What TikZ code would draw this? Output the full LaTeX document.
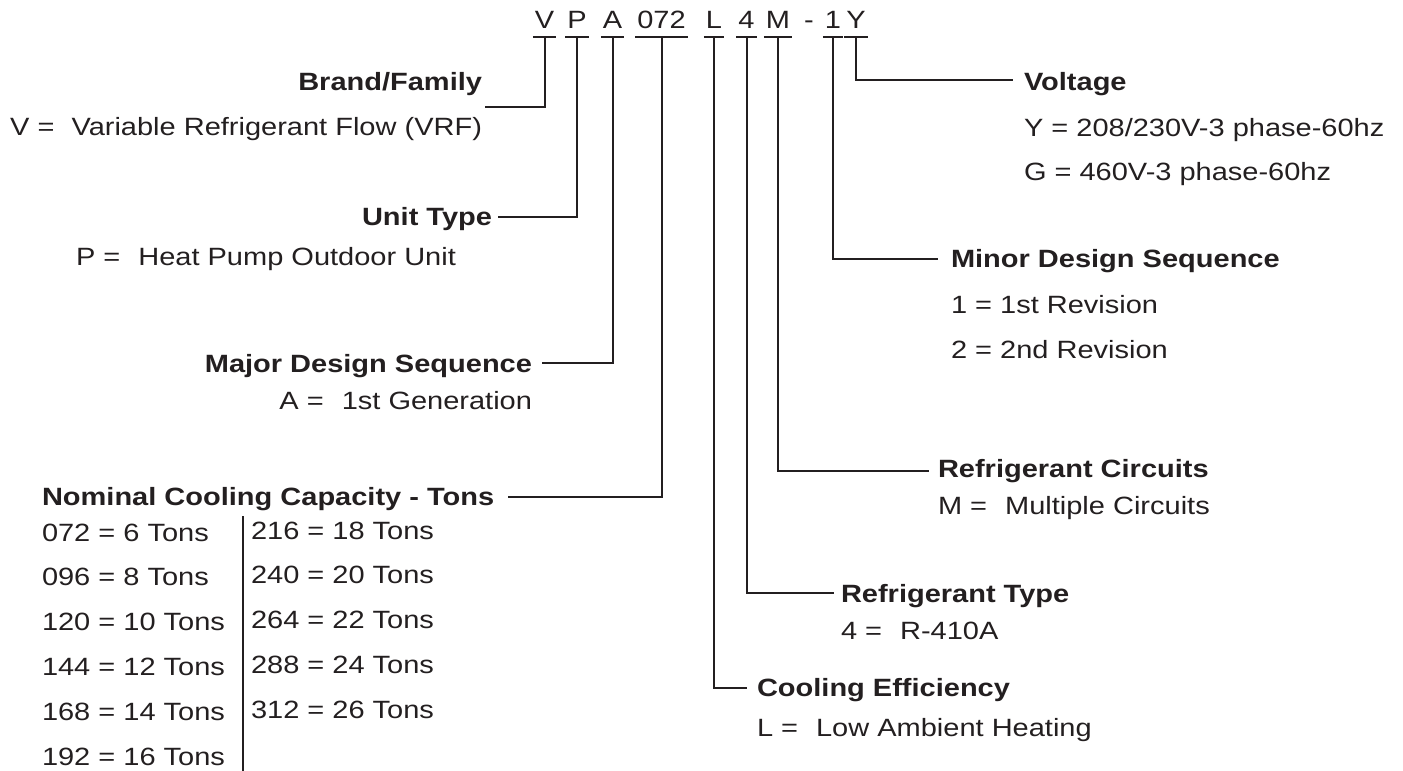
\documentclass[tikz,border=0pt]{standalone}
\usepackage{fontspec}
\setmainfont{Liberation Sans}[FakeStretch=1.16]
\usepackage{tikz}
\usepackage{xcolor}
\usetikzlibrary{positioning}
\definecolor{ink}{RGB}{35,31,32}
\newcommand{\fs}{\fontsize{25pt}{30pt}\selectfont}
\newcommand{\eqgap}{\hspace{18pt}}
\tikzset{
  code/.style={ % one character of the model number
    font=\fs, text height=18pt, text depth=0pt,
    inner xsep=1pt, inner ysep=8pt, anchor=base
  },
  head/.style={ % bold title of a field
    font=\fs\bfseries, text height=18pt, text depth=5pt, inner sep=0pt
  },
  desc/.style={ % plain line under a title
    font=\fs, text height=18pt, text depth=5pt, inner sep=0pt
  }
}

\begin{document}
\begin{tikzpicture}[x=1pt, y=-1pt, line width=2pt, color=ink]
  \useasboundingbox (0,0) rectangle (1403,771);

  % the model number
  \node[code] (cV) at (544.5,28) {V};
  \node[code] (cP) at (577,28) {P};
  \node[code] (cA) at (612.5,28) {A};
  \node[code] (cCap) at (661.5,28) {072};
  \node[code] (cL) at (714,28) {L};
  \node[code] (cRef) at (746.5,28) {4};
  \node[code] (cM) at (778,28) {M};
  \node[code] (cDash) at (809,28) {-};
  \node[code] (cOne) at (833,28) {1};
  \node[code] (cY) at (856,28) {Y};
  \draw (cV.south west) -- (cV.south east)
        (cP.south west) -- (cP.south east)
        (cA.south west) -- (cA.south east)
        (cCap.south west) -- (cCap.south east)
        (cL.south west) -- (cL.south east)
        (cRef.south west) -- (cRef.south east)
        (cM.south west) -- (cM.south east)
        (cOne.south west) -- (cOne.south east)
        (cY.south west) -- (cY.south east);

  % fields on the left
  \node[head, anchor=base east] (brand) at (483,90) {Brand/Family};
  \node[desc, below=20pt of brand.south east, anchor=north east] (brand_v)
    {V =\hspace{9pt} Variable Refrigerant Flow (VRF)};
  \node[head, anchor=base east] (unit) at (493,225) {Unit Type};
  \node[desc, anchor=base west] (unit_p) at (75,265)
    {P =\eqgap Heat Pump Outdoor Unit};
  \node[head, anchor=base east] (major) at (533,372) {Major Design Sequence};
  \node[desc, below=12pt of major.south east, anchor=north east] (major_a)
    {A =\eqgap 1st Generation};
  \node[head, anchor=base west] (cap) at (41,505) {Nominal Cooling Capacity - Tons};
  \node[desc, below=11pt of cap.south west, anchor=north west] (t072) {072 = 6 Tons};
  \node[desc, below=19.8pt of t072.south west, anchor=north west] (t096) {096 = 8 Tons};
  \node[desc, below=19.8pt of t096.south west, anchor=north west] (t120) {120 = 10 Tons};
  \node[desc, below=19.8pt of t120.south west, anchor=north west] (t144) {144 = 12 Tons};
  \node[desc, below=19.8pt of t144.south west, anchor=north west] (t168) {168 = 14 Tons};
  \node[desc, below=19.8pt of t168.south west, anchor=north west] (t192) {192 = 16 Tons};
  \node[desc, anchor=base west] (t216) at (250,539) {216 = 18 Tons};
  \node[desc, below=19.8pt of t216.south west, anchor=north west] (t240) {240 = 20 Tons};
  \node[desc, below=19.8pt of t240.south west, anchor=north west] (t264) {264 = 22 Tons};
  \node[desc, below=19.8pt of t264.south west, anchor=north west] (t288) {288 = 24 Tons};
  \node[desc, below=19.8pt of t288.south west, anchor=north west] (t312) {312 = 26 Tons};
  \draw (243,516) -- (243,771);

  % fields on the right
  \node[head, anchor=base west] (volt) at (1023,90) {Voltage};
  \node[desc, below=21pt of volt.south west, anchor=north west] (volt_y)
    {Y = 208/230V-3 phase-60hz};
  \node[desc, below=19pt of volt_y.south west, anchor=north west] (volt_g)
    {G = 460V-3 phase-60hz};
  \node[head, anchor=base west] (minor) at (950,267) {Minor Design Sequence};
  \node[desc, below=21pt of minor.south west, anchor=north west] (minor_1)
    {1 = 1st Revision};
  \node[desc, below=20pt of minor_1.south west, anchor=north west] (minor_2)
    {2 = 2nd Revision};
  \node[head, anchor=base west] (circ) at (937,477) {Refrigerant Circuits};
  \node[desc, below=12pt of circ.south west, anchor=north west] (circ_m)
    {M =\eqgap Multiple Circuits};
  \node[head, anchor=base west] (rtype) at (840,602) {Refrigerant Type};
  \node[desc, below=12pt of rtype.south west, anchor=north west] (rtype_4)
    {4 =\eqgap R-410A};
  \node[head, anchor=base west] (eff) at (756,696) {Cooling Efficiency};
  \node[desc, below=15pt of eff.south west, anchor=north west] (eff_l)
    {L =\eqgap Low Ambient Heating};

  % leader lines
  \draw (cV.south) |- ([xshift=2pt,yshift=-17pt]brand.base east);
  \draw (cP.south) |- ([xshift=5pt,yshift=8pt]unit.base east);
  \draw (cA.south) |- ([xshift=9pt,yshift=9pt]major.base east);
  \draw (cCap.south) |- ([xshift=13pt,yshift=8pt]cap.base east);
  \draw (cY.south) |- ([xshift=-10pt,yshift=10pt]volt.base west);
  \draw (cOne.south) |- ([xshift=-12pt,yshift=8pt]minor.base west);
  \draw (cM.south) |- ([xshift=-8pt,yshift=6pt]circ.base west);
  \draw (cRef.south) |- ([xshift=-6pt,yshift=9pt]rtype.base west);
  \draw (cL.south) |- ([xshift=-9pt,yshift=8pt]eff.base west);
\end{tikzpicture}
\end{document}
